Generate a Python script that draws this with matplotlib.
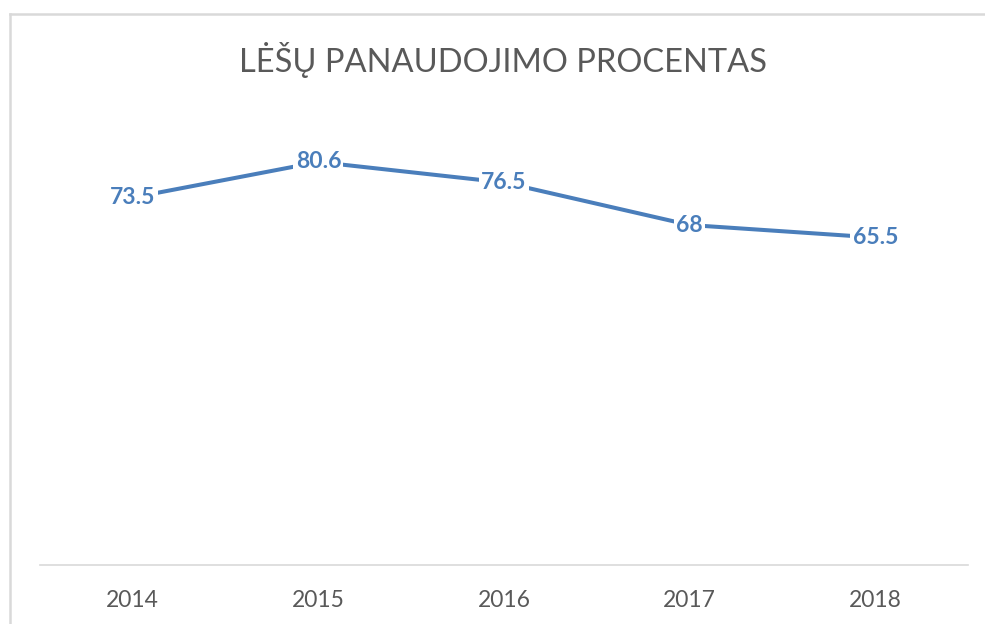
import matplotlib
matplotlib.use("Agg")
import matplotlib.pyplot as plt
from matplotlib.lines import Line2D

years = ["2014", "2015", "2016", "2017", "2018"]
values = [73.5, 80.6, 76.5, 68, 65.5]
labels = ["73.5", "80.6", "76.5", "68", "65.5"]

plt.rcParams['font.family'] = ['Lato', 'DejaVu Sans']

W, H = 985, 624
fig = plt.figure(figsize=(W / 100, H / 100), dpi=100)
ax = fig.add_axes([40 / W, 59 / H, 928 / W, 450 / H])

x = list(range(len(years)))
ax.plot(x, values, color="#4a7ebb", linewidth=2.9, solid_capstyle="round")
for xi, v, lab in zip(x, values, labels):
    ax.text(xi, v, lab, ha="center", va="center", fontsize=16.5, fontweight="bold",
            color="#4a7ebb",
            bbox=dict(boxstyle="square,pad=0.1", facecolor="white", edgecolor="none"))

ax.set_xlim(-0.5, len(years) - 0.5)
ax.set_ylim(0, 90)
ax.set_xticks(x)
ax.set_xticklabels(years, fontsize=16.5, color="#595959")
ax.tick_params(axis="x", length=0, pad=18)
ax.set_yticks([])
for s in ["left", "right", "top"]:
    ax.spines[s].set_visible(False)
ax.spines["bottom"].set_color("#d9d9d9")
ax.spines["bottom"].set_linewidth(1.2)

fig.text(503 / W, 1 - 60 / H, "LĖŠŲ PANAUDOJIMO PROCENTAS", ha="center", va="center",
         fontsize=23.5, color="#595959")

# chart border (cropped on the right and bottom)
fig.add_artist(Line2D([10 / W, 1], [1 - 14 / H, 1 - 14 / H], color="#d9d9d9", linewidth=1.8,
                      transform=fig.transFigure))
fig.add_artist(Line2D([10 / W, 10 / W], [0, 1 - 14 / H], color="#d9d9d9", linewidth=1.8,
                      transform=fig.transFigure))

fig.savefig("out.png", dpi=100)
